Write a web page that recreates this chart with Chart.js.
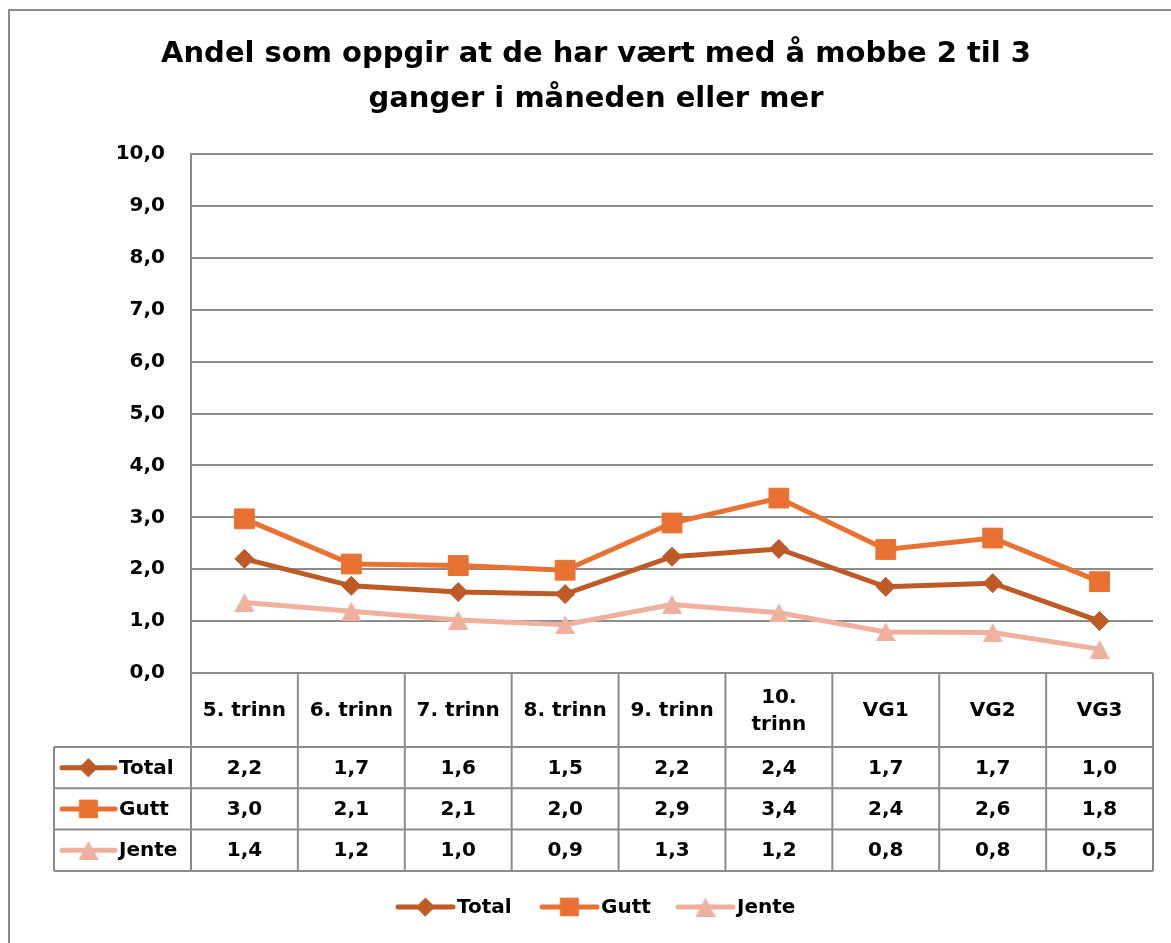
<!DOCTYPE html>
<html><head><meta charset="utf-8">
<script src="https://cdn.jsdelivr.net/npm/chart.js@4/dist/chart.umd.min.js"></script>
<style>html,body{margin:0;padding:0;background:#fff;overflow:hidden}#wrap{width:1171px;height:943px;position:relative}</style>
</head><body><div id="wrap"><canvas id="c" width="1171" height="943"></canvas></div>
<script>
// ---- data ----
const titleLines = ['Andel som oppgir at de har vært med å mobbe 2 til 3', 'ganger i måneden eller mer'];
const categories = [['5. trinn'], ['6. trinn'], ['7. trinn'], ['8. trinn'], ['9. trinn'], ['10.', 'trinn'], ['VG1'], ['VG2'], ['VG3']];
const seriesNames = ['Total', 'Gutt', 'Jente'];
const totalValues = [2.20, 1.68, 1.56, 1.52, 2.24, 2.39, 1.66, 1.73, 1.00];
const guttValues  = [2.97, 2.10, 2.07, 1.98, 2.89, 3.37, 2.38, 2.60, 1.76];
const jenteValues = [1.36, 1.19, 1.02, 0.93, 1.32, 1.16, 0.79, 0.78, 0.46];
const yTicks = [0, 1, 2, 3, 4, 5, 6, 7, 8, 9, 10];

// ---- style ----
const FONT = "'DejaVu Sans', sans-serif";
const GRID = '#8c8c8c';
const fmt = v => (Math.round(v * 10) / 10).toFixed(1).replace('.', ',');

function triangleImage(color, w, h) {
  const c = document.createElement('canvas');
  c.width = w; c.height = h;
  const g = c.getContext('2d');
  g.fillStyle = color;
  g.beginPath(); g.moveTo(w / 2, 0); g.lineTo(w, h); g.lineTo(0, h); g.closePath(); g.fill();
  return c;
}

const styles = [
  { color: '#BE5A26', pointStyle: 'rectRot', radius: 9.5 },
  { color: '#E97132', pointStyle: 'rect', radius: 14 },
  { color: '#EFB09E', pointStyle: null, radius: 10 }
];
styles[2].pointStyle = triangleImage(styles[2].color, 20, 19);
const values = [totalValues, guttValues, jenteValues];

const datasets = seriesNames.map((name, i) => ({
  label: name,
  data: values[i],
  borderColor: styles[i].color,
  backgroundColor: styles[i].color,
  borderWidth: 5,
  pointStyle: styles[i].pointStyle,
  pointRadius: styles[i].radius,
  pointBorderWidth: 1,
  pointBorderColor: styles[i].color,
  pointBackgroundColor: styles[i].color,
  tension: 0,
  order: 3 - i
}));

function drawKey(ctx, i, x1, x2, y) {
  const s = styles[i];
  ctx.save();
  ctx.strokeStyle = s.color; ctx.lineWidth = 5; ctx.lineCap = 'round';
  ctx.beginPath(); ctx.moveTo(x1, y); ctx.lineTo(x2, y); ctx.stroke();
  ctx.fillStyle = s.color; ctx.strokeStyle = s.color; ctx.lineWidth = 1;
  const r = i === 1 ? 12.5 : 9;
  Chart.helpers.drawPoint(ctx, { pointStyle: s.pointStyle, radius: r, borderWidth: 1, rotation: 0 }, (x1 + x2) / 2, y);
  ctx.restore();
}

const decor = {
  id: 'decor',
  beforeDraw(chart) {
    const ctx = chart.ctx;
    ctx.save();
    ctx.fillStyle = '#fff'; ctx.fillRect(0, 0, chart.width, chart.height);
    ctx.strokeStyle = GRID; ctx.lineWidth = 2;
    ctx.beginPath(); ctx.moveTo(9, chart.height + 5); ctx.lineTo(9, 10); ctx.lineTo(chart.width + 5, 10); ctx.stroke();
    // title
    ctx.fillStyle = '#000'; ctx.font = 'bold 29px ' + FONT; ctx.textAlign = 'center'; ctx.textBaseline = 'alphabetic';
    ctx.fillText(titleLines[0], 596, 62);
    ctx.fillText(titleLines[1], 596, 107);
    ctx.restore();
  },
  afterDraw(chart) {
    const ctx = chart.ctx, ca = chart.chartArea;
    const n = categories.length, colW = (ca.right - ca.left) / n;
    const yTop = ca.bottom, yHead = yTop + 74, rowH = 41.3, tLeft = 54;
    const yEnd = yHead + 3 * rowH;
    ctx.save();
    ctx.strokeStyle = GRID; ctx.lineWidth = 2;
    ctx.beginPath();
    for (let i = 0; i <= n; i++) { const x = ca.left + i * colW; ctx.moveTo(x, yTop); ctx.lineTo(x, yEnd); }
    ctx.moveTo(tLeft, yHead); ctx.lineTo(tLeft, yEnd);
    for (let r = 0; r <= 3; r++) { const y = yHead + r * rowH; ctx.moveTo(tLeft, y); ctx.lineTo(ca.right, y); }
    ctx.stroke();
    ctx.fillStyle = '#000'; ctx.font = 'bold 20px ' + FONT; ctx.textAlign = 'center'; ctx.textBaseline = 'middle';
    categories.forEach((lab, i) => {
      const cx = chart.scales.x.getPixelForValue(i);
      const cy = (yTop + yHead) / 2 + 1;
      const lh = 27;
      lab.forEach((t, k) => ctx.fillText(t, cx, cy + (k - (lab.length - 1) / 2) * lh));
    });
    values.forEach((arr, s) => {
      const cy = yHead + (s + 0.5) * rowH + 1;
      arr.forEach((v, i) => ctx.fillText(fmt(v), chart.scales.x.getPixelForValue(i), cy));
      drawKey(ctx, s, 62, 115, cy - 1);
      ctx.textAlign = 'left'; ctx.fillText(seriesNames[s], 119, cy); ctx.textAlign = 'center';
    });
    // bottom legend
    const lx = [398, 542, 678], ly = 907;
    seriesNames.forEach((name, s) => {
      drawKey(ctx, s, lx[s], lx[s] + 55, ly);
      ctx.textAlign = 'left'; ctx.fillText(name, lx[s] + 59, ly + 1);
    });
    ctx.restore();
  }
};

new Chart(document.getElementById('c'), {
  type: 'line',
  data: { labels: categories, datasets },
  options: {
    responsive: false, animation: false, devicePixelRatio: 1,
    layout: { padding: { top: 154, left: 0, right: 18, bottom: 270 } },
    plugins: { legend: { display: false }, title: { display: false }, tooltip: { enabled: false } },
    scales: {
      x: { display: false, offset: true },
      y: {
        min: 0, max: 10,
        afterBuildTicks: s => { s.ticks = yTicks.map(v => ({ value: v })); },
        afterFit: s => { s.width = 191; },
        ticks: { callback: v => fmt(v), font: { family: FONT, size: 20, weight: 'bold' }, color: '#000', padding: 26 },
        grid: { color: GRID, lineWidth: 2, drawTicks: false },
        border: { display: true, color: GRID, width: 2 }
      }
    }
  },
  plugins: [decor]
});
</script>
</body></html>
